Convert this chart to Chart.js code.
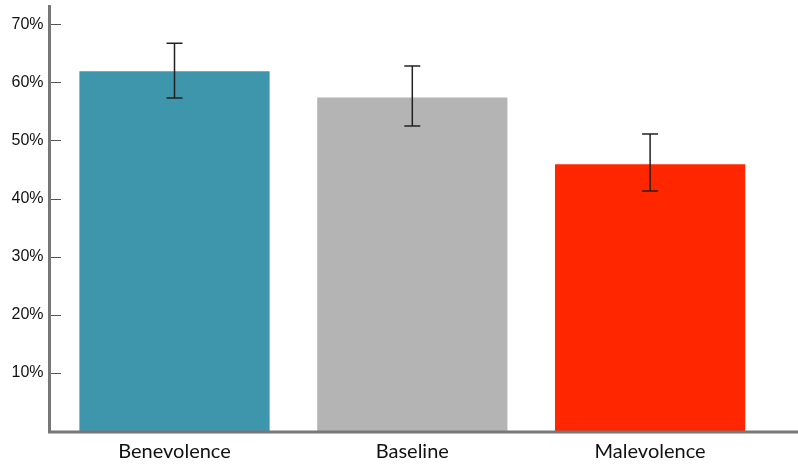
<!DOCTYPE html>
<html>
<head>
<meta charset="utf-8">
<script src="https://cdn.jsdelivr.net/npm/chart.js@4/dist/chart.umd.min.js"></script>
<style>
  html, body { margin: 0; padding: 0; background: #fff; }
  #wrap { width: 798px; height: 465px; }
</style>
</head>
<body>
<div id="wrap"><canvas id="chart" width="798" height="465"></canvas></div>
<script>
const categories = ['Benevolence', 'Baseline', 'Malevolence'];
const values = [61.9, 57.4, 45.9];
const errLow = [57.3, 52.5, 41.3];
const errHigh = [66.7, 62.8, 51.1];
const barColors = ['#3d96ab', '#b4b4b4', '#ff2600'];
const yTicks = [10, 20, 30, 40, 50, 60, 70];

// axis lines, inward tick marks and error bars
const decorations = {
    id: 'decorations',
    afterDatasetsDraw(chart) {
        const ctx = chart.ctx;
        const x = chart.scales.x;
        const y = chart.scales.y;
        const area = chart.chartArea;

        ctx.save();
        ctx.strokeStyle = '#222';
        ctx.lineWidth = 1.5;
        values.forEach((v, i) => {
            const cx = x.getPixelForValue(i);
            const top = y.getPixelForValue(errHigh[i]);
            const bot = y.getPixelForValue(errLow[i]);
            ctx.beginPath();
            ctx.moveTo(cx, top);
            ctx.lineTo(cx, bot);
            ctx.moveTo(cx - 8, top);
            ctx.lineTo(cx + 8, top);
            ctx.moveTo(cx - 8, bot);
            ctx.lineTo(cx + 8, bot);
            ctx.stroke();
        });

        ctx.strokeStyle = '#555';
        ctx.lineWidth = 1;
        yTicks.forEach(t => {
            const py = Math.round(y.getPixelForValue(t)) + 0.5;
            ctx.beginPath();
            ctx.moveTo(51, py);
            ctx.lineTo(61, py);
            ctx.stroke();
        });

        ctx.strokeStyle = '#777';
        ctx.lineWidth = 3;
        ctx.beginPath();
        ctx.moveTo(49.5, area.top);
        ctx.lineTo(49.5, area.bottom + 2.5);
        ctx.moveTo(48, area.bottom + 1);
        ctx.lineTo(chart.width, area.bottom + 1);
        ctx.stroke();
        ctx.restore();
    }
};

new Chart(document.getElementById('chart'), {
    type: 'bar',
    data: {
        labels: categories,
        datasets: [{
            data: values,
            backgroundColor: barColors,
            borderWidth: 0,
            categoryPercentage: 0.8,
            barPercentage: 1.0
        }]
    },
    options: {
        responsive: false,
        animation: false,
        layout: { padding: { top: 5, right: 29, left: 0, bottom: 0 } },
        plugins: {
            legend: { display: false },
            tooltip: { enabled: false }
        },
        scales: {
            x: {
                grid: { display: false, drawTicks: false },
                border: { display: false },
                ticks: {
                    color: '#111',
                    padding: 9,
                    font: { family: 'Lato', size: 20 }
                },
                afterFit(scale) {
                    scale.height = 34;
                    scale.paddingLeft = 0;
                    scale.paddingRight = 0;
                }
            },
            y: {
                min: 0,
                max: 73.3,
                grid: { display: false, drawTicks: false },
                border: { display: false },
                afterBuildTicks(scale) {
                    scale.ticks = yTicks.map(v => ({ value: v }));
                },
                ticks: {
                    color: '#111',
                    padding: 12,
                    font: { family: 'Liberation Sans', size: 16 },
                    callback: v => v + '%'
                },
                afterFit(scale) {
                    scale.width = 55.6;
                    scale.paddingTop = 0;
                    scale.paddingBottom = 0;
                }
            }
        }
    },
    plugins: [decorations]
});
</script>
</body>
</html>
